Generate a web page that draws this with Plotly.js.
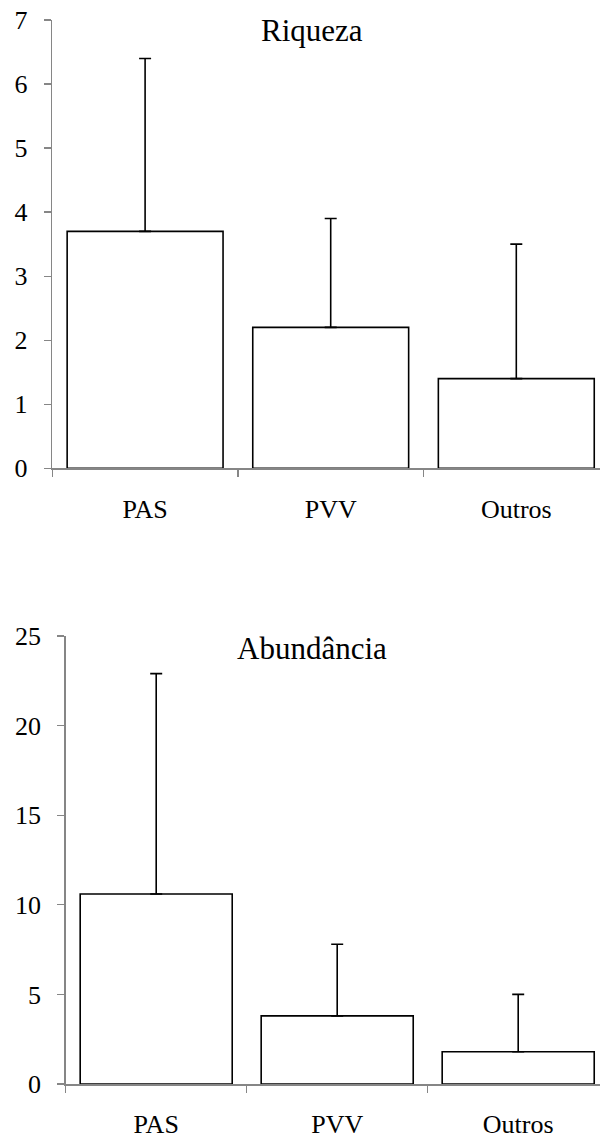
<!DOCTYPE html>
<html>
<head>
<meta charset="utf-8">
<script src="https://cdn.plot.ly/plotly-3.0.1.min.js"></script>
<style>html,body{margin:0;padding:0;background:#fff;}#chart{width:600px;height:1139px;}</style>
</head>
<body>
<div id="chart"></div>
<script>
const categories = ["PAS", "PVV", "Outros"];
const riquezaMeans = [3.7, 2.2, 1.4];
const riquezaErr = [2.7, 1.7, 2.1];
const abundMeans = [10.6, 3.8, 1.8];
const abundErr = [12.3, 4.0, 3.2];
const titles = ["Riqueza", "Abundância"];
const riquezaTicks = [0, 1, 2, 3, 4, 5, 6, 7];
const abundTicks = [0, 5, 10, 15, 20, 25];

const H = 1139, W = 600;
const font = "Liberation Serif";
const gray = "#868686";

function barTrace(y, err, xa, ya) {
  return {
    type: "bar", x: categories, y: y, xaxis: xa, yaxis: ya,
    width: 0.84,
    marker: {color: "#ffffff", line: {color: "#000000", width: 1.6}},
    error_y: {type: "data", array: err, arrayminus: err.map(() => 0), symmetric: false,
              color: "#000000", thickness: 1.6, width: 6},
    hoverinfo: "skip", showlegend: false
  };
}

function xAxis(extra) {
  return Object.assign({
    type: "category", tickson: "boundaries", ticks: "outside", ticklen: 7, tickwidth: 1.3,
    tickcolor: gray, showline: true, linecolor: gray, linewidth: 1.6,
    showgrid: false, zeroline: false, ticklabelstandoff: 17,
    tickfont: {family: font, size: 26, color: "#000000"}, fixedrange: true
  }, extra);
}
function yAxis(extra) {
  return Object.assign({
    ticks: "outside", ticklen: 7, tickwidth: 1.3, tickcolor: gray, showline: true,
    linecolor: gray, linewidth: 1.6, showgrid: false, zeroline: false,
    ticklabelstandoff: 11, tickfont: {family: font, size: 26, color: "#000000"}, fixedrange: true
  }, extra);
}

const layout = {
  width: W, height: H, margin: {l: 0, r: 0, t: 0, b: 0},
  font: {family: font, size: 26, color: "#000000"},
  paper_bgcolor: "#fff", plot_bgcolor: "#fff", showlegend: false,
  xaxis: xAxis({domain: [52.3 / W, 1], range: [-0.5, -0.5 + (W - 52.3) / 185.6], anchor: "y"}),
  yaxis: yAxis({domain: [1 - 468.3 / H, 1 - 20 / H], range: [0, 7],
    tickmode: "array", tickvals: riquezaTicks, anchor: "x"}),
  xaxis2: xAxis({domain: [65.7 / W, 1], range: [-0.5, -0.5 + (W - 65.7) / 181], anchor: "y2",
    ticklabelstandoff: 16}),
  yaxis2: yAxis({domain: [1 - 1084 / H, 1 - 636 / H], range: [0, 25],
    tickmode: "array", tickvals: abundTicks, anchor: "x2"}),
  annotations: [
    {text: titles[0], xref: "paper", yref: "paper", x: 312 / W, y: 1 - 30 / H,
     xanchor: "center", yanchor: "middle", showarrow: false, font: {family: font, size: 31, color: "#000000"}},
    {text: titles[1], xref: "paper", yref: "paper", x: 312 / W, y: 1 - 648 / H,
     xanchor: "center", yanchor: "middle", showarrow: false, font: {family: font, size: 31, color: "#000000"}}
  ]
};

Plotly.newPlot("chart", [barTrace(riquezaMeans, riquezaErr, "x", "y"), barTrace(abundMeans, abundErr, "x2", "y2")],
  layout, {displayModeBar: false, staticPlot: true});
</script>
</body>
</html>
